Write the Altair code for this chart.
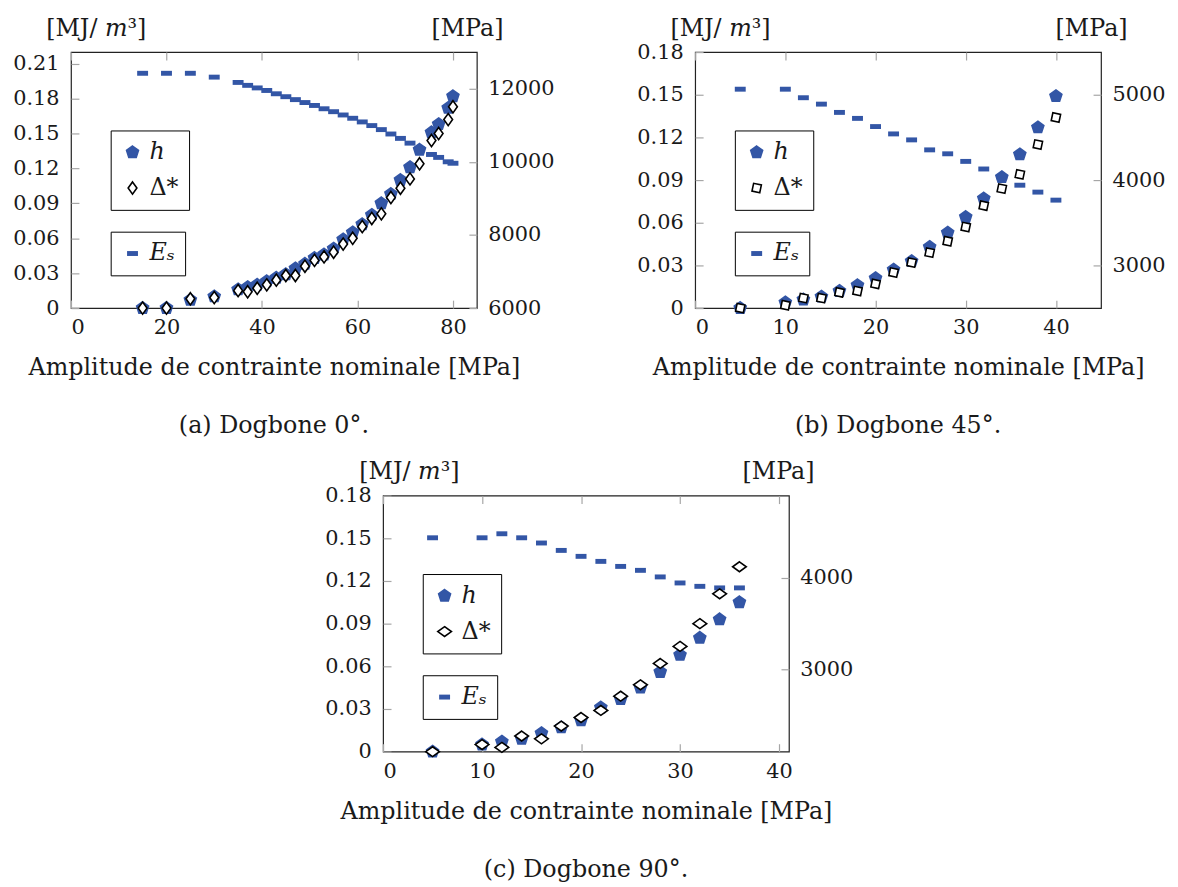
import altair as alt
import pandas as pd

FONT = "DejaVu Serif"
BLUE = "#3356a6"
XTITLE = "Amplitude de contrainte nominale [MPa]"
YTITLE = "[MJ/ 𝑚³]"

PENT = "M0,-1L0.951,-0.309L0.588,0.809L-0.588,0.809L-0.951,-0.309Z"
DIAM_A = "M0,-1L0.72,0L0,1L-0.72,0Z"
SQ_B = "M0.54,0.83L-0.83,0.54L-0.54,-0.83L0.83,-0.54Z"
DIAM_C = "M0,-0.72L1,0L0,0.72L-1,0Z"
DASH = "M-1,-0.45H1V0.45H-1Z"

# ---- (a) Dogbone 0 deg ----
a_x = [15, 20, 25, 30, 35, 37, 39, 41, 43, 45, 47, 49, 51, 53, 55, 57, 59, 61, 63, 65,
       67, 69, 71, 73, 75.5, 77, 79, 80]
a_h = [0.0, 0.0, 0.007, 0.010, 0.016, 0.018, 0.020, 0.023, 0.026, 0.029, 0.034, 0.038,
       0.043, 0.046, 0.051, 0.059, 0.065, 0.072, 0.080, 0.090, 0.098, 0.110, 0.121, 0.136,
       0.151, 0.158, 0.172, 0.182]
a_d = [0.0, 0.0, 0.008, 0.009, 0.015, 0.014, 0.017, 0.020, 0.024, 0.028, 0.028, 0.036,
       0.041, 0.044, 0.048, 0.055, 0.060, 0.070, 0.077, 0.081, 0.095, 0.103, 0.111, 0.124,
       0.144, 0.150, 0.162, 0.173]
a_es = [12420, 12420, 12420, 12315, 12170, 12090, 12020, 11950, 11860, 11780, 11700, 11620,
        11540, 11450, 11370, 11280, 11190, 11090, 10990, 10880, 10760, 10640, 10510, 10350,
        10200, 10120, 10000, 9960]

# ---- (b) Dogbone 45 deg ----
b_x = [5, 10, 12, 14, 16, 18, 20, 22, 24, 26, 28, 30, 32, 34, 36, 38, 40]
b_h = [0.0, 0.004, 0.006, 0.008, 0.012, 0.016, 0.021, 0.027, 0.033, 0.043, 0.053, 0.064,
       0.077, 0.092, 0.108, 0.127, 0.149]
b_d = [0.0, 0.002, 0.007, 0.007, 0.011, 0.012, 0.017, 0.025, 0.032, 0.039, 0.047, 0.057,
       0.072, 0.084, 0.094, 0.115, 0.134]
b_es = [5065, 5065, 4965, 4890, 4793, 4723, 4627, 4541, 4471, 4354, 4308, 4219, 4130, 4037,
        3940, 3859, 3765]

# ---- (c) Dogbone 90 deg ----
c_x = [5, 10, 12, 14, 16, 18, 20, 22, 24, 26, 28, 30, 32, 34, 36]
c_h = [0.0, 0.005, 0.007, 0.009, 0.013, 0.017, 0.022, 0.031, 0.037, 0.045, 0.056, 0.068,
       0.080, 0.093, 0.105]
c_d = [0.0, 0.005, 0.003, 0.011, 0.009, 0.018, 0.024, 0.029, 0.039, 0.047, 0.062, 0.074,
       0.090, 0.111, 0.130]
c_es = [4439, 4439, 4483, 4439, 4382, 4301, 4236, 4181, 4126, 4083, 4011, 3945, 3908, 3891,
        3891]

W, H = 409, 258
TICK = "#a6a6a6"
TXT = "#1a1a1a"


def panel(x, h, d, es, xmax, xticks, ymax, yticks, y2dom, y2ticks, dshape, dsize,
          caption, ltx, rtx, lpad=""):
    n = len(x)
    pts_df = pd.DataFrame({"x": list(x) + list(x), "v": list(h) + list(d),
                           "s": ["h"] * n + ["Δ*"] * n})
    es_df = pd.DataFrame({"x": x, "e": es, "s": ["Eₛ"] * n})
    xs = alt.Scale(domain=[0, xmax], nice=False, zero=False)
    dom = ["h", "Δ*"]
    leg1 = alt.Legend(orient="none", legendX=40, legendY=79, title=None,
                      strokeColor="black", fillColor="white", padding=10,
                      labelFont=FONT, labelFontSize=24, labelColor=TXT,
                      labelFontStyle=alt.ExprRef(expr="datum.label == 'h' ? 'italic' : 'normal'"),
                      rowPadding=12, labelOffset=5, columnPadding=0,
                      symbolStrokeWidth=1.6)
    leg2 = alt.Legend(orient="none", legendX=40, legendY=181, title=None,
                      strokeColor="black", fillColor="white", padding=10,
                      labelFont=FONT, labelFontSize=24, labelColor=TXT,
                      labelFontStyle="italic", labelOffset=5, columnPadding=0,
                      symbolFillColor=BLUE, symbolStrokeWidth=0, symbolSize=121)
    yfmt = "'" + lpad + "' + (datum.value == 0 ? '0' : format(datum.value, '.2f'))"
    pts = alt.Chart(pts_df).mark_point(opacity=1, strokeWidth=1.6).encode(
        x=alt.X("x:Q", scale=xs,
                axis=alt.Axis(orient="bottom", values=xticks, title=XTITLE, offset=-8,
                              tickSize=8, domain=False, labelPadding=9, titlePadding=18,
                              format="d")),
        y=alt.Y("v:Q", scale=alt.Scale(domain=[0, ymax], nice=False, zero=False),
                axis=alt.Axis(orient="left", values=yticks, title=YTITLE, offset=-8,
                              tickSize=8, domain=False, labelPadding=12, labelExpr=yfmt,
                              titleAngle=0, titleAlign="center", titleBaseline="alphabetic",
                              titleX=ltx, titleY=-17)),
        shape=alt.Shape("s:N", scale=alt.Scale(domain=dom, range=[PENT, dshape]), legend=leg1),
        fill=alt.Fill("s:N", scale=alt.Scale(domain=dom, range=[BLUE, "white"]), legend=leg1),
        stroke=alt.Stroke("s:N", scale=alt.Scale(domain=dom, range=[BLUE, "black"]), legend=leg1),
        size=alt.Size("s:N", scale=alt.Scale(domain=dom, range=[160, dsize]), legend=leg1),
    )
    esl = alt.Chart(es_df).mark_point(opacity=1, filled=True, size=121, color=BLUE,
                                      strokeWidth=0).encode(
        x=alt.X("x:Q", scale=xs,
                axis=alt.Axis(orient="top", values=xticks, title=None, labels=False,
                              domain=False, offset=-8, tickSize=8)),
        y=alt.Y("e:Q", scale=alt.Scale(domain=y2dom, nice=False, zero=False),
                axis=alt.Axis(orient="right", values=y2ticks, title="[MPa]", offset=-8,
                              tickSize=8, domain=False, labelPadding=11, format="d",
                              titleAngle=0, titleAlign="center", titleBaseline="alphabetic",
                              titleX=rtx, titleY=-17)),
        shape=alt.Shape("s:N", scale=alt.Scale(domain=["Eₛ"], range=[DASH]), legend=leg2),
    )
    return alt.layer(esl, pts).resolve_scale(
        y="independent", shape="independent", fill="independent",
        stroke="independent", size="independent"
    ).properties(
        width=W, height=H,
        title=alt.TitleParams(caption, orient="bottom", anchor="middle", frame="group",
                              offset=35, fontSize=24, font=FONT, fontWeight="normal",
                              color=TXT),
    )


pa = panel(a_x, a_h, a_d, a_es, 85, [0, 20, 40, 60, 80], 0.22,
           [0, 0.03, 0.06, 0.09, 0.12, 0.15, 0.18, 0.21], [6000, 13000],
           [6000, 8000, 10000, 12000], DIAM_A, 150, "(a) Dogbone 0°.", 17, -2)
pb = panel(b_x, b_h, b_d, b_es, 45, [0, 10, 20, 30, 40], 0.18,
           [0, 0.03, 0.06, 0.09, 0.12, 0.15, 0.18], [2500, 5500],
           [3000, 4000, 5000], SQ_B, 130, "(b) Dogbone 45°.", 17, -2)
pc = panel(c_x, c_h, c_d, c_es, 41, [0, 10, 20, 30, 40], 0.18,
           [0, 0.03, 0.06, 0.09, 0.12, 0.15, 0.18], [2100, 4900],
           [3000, 4000], DIAM_C, 190, "(c) Dogbone 90°.", 18, -3, lpad="  ")

top = alt.hconcat(pa, pb, spacing=220, bounds="flush")
chart = alt.vconcat(top, pc, spacing=20, center=True).properties(
    padding={"left": 4, "top": 4, "right": 4, "bottom": 4}
).configure_view(stroke="#222222", strokeWidth=1.2).configure_axis(
    labelFont=FONT, labelFontSize=21, labelColor=TXT, titleFont=FONT, titleFontSize=24,
    titleFontWeight="normal", titleColor=TXT, tickColor=TICK, tickWidth=1.2, grid=False,
)

chart.save("out.html", embed_options={"renderer": "svg", "actions": False})
